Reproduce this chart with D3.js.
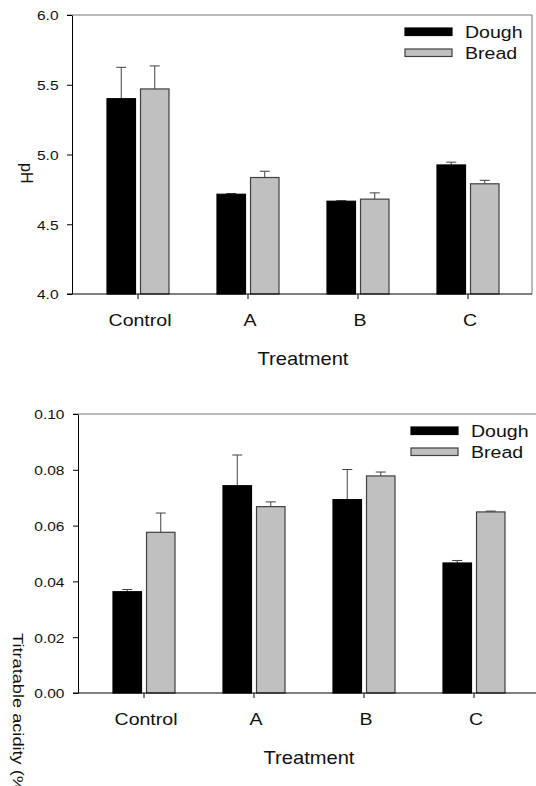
<!DOCTYPE html>
<html>
<head>
<meta charset="utf-8">
<script src="https://cdn.jsdelivr.net/npm/d3@7"></script>
<style>
    body { margin: 0; background: #fff; }
    svg { display: block; font-family: "Liberation Sans", Arial, sans-serif; }
</style>
</head>
<body>
<svg id="chart" width="536" height="786"></svg>
<script>
// Dough vs bread, pH and titratable acidity per treatment

const treatments = ['Control', 'A', 'B', 'C'];
const series = ['Dough', 'Bread'];

// pH panel
const phDough = [5.40, 4.715, 4.665, 4.925];
const phDoughErr = [0.225, 0.005, 0.004, 0.02];
const phBread = [5.47, 4.835, 4.68, 4.79];
const phBreadErr = [0.165, 0.045, 0.045, 0.025];
const phTicks = [4.0, 4.5, 5.0, 5.5, 6.0];

// Titratable acidity panel
const taDough = [0.0363, 0.0743, 0.0693, 0.0466];
const taDoughErr = [0.0008, 0.0110, 0.0108, 0.0009];
const taBread = [0.0576, 0.0668, 0.0778, 0.0649];
const taBreadErr = [0.0069, 0.0017, 0.0014, 0.0003];
const taTicks = [0.00, 0.02, 0.04, 0.06, 0.08, 0.10];

const fills = { Dough: '#000000', Bread: '#c0c0c0' };
const strokes = { Dough: '#000000', Bread: '#404040' };
const frameGray = '#777777';
const sx = 1.15; // the source figure is stretched a bit horizontally

const svg = d3.select('#chart');

function drawPanel(cfg) {
    const { left, right, top, bottom } = cfg.box;
    const g = svg.append('g');

    const x = d3.scaleBand()
        .domain(treatments)
        .range([left + 11, right - 9]);

    const x1 = d3.scaleBand()
        .domain(series)
        .range([-31, 31])
        .paddingInner(0.15);

    const y = d3.scaleLinear()
        .domain(cfg.domain)
        .range([bottom, top]);

    // rows: one per treatment and series
    const rows = [];
    treatments.forEach((t, i) => {
        rows.push({ t, s: 'Dough', v: cfg.dough[i], e: cfg.doughErr[i] });
        rows.push({ t, s: 'Bread', v: cfg.bread[i], e: cfg.breadErr[i] });
    });
    const cx = d => x(d.t) + x.bandwidth() / 2;

    // frame (top and right in gray)
    g.append('line')
        .attr('x1', left - 5).attr('x2', right)
        .attr('y1', top).attr('y2', top)
        .attr('stroke', frameGray);
    g.append('line')
        .attr('x1', right).attr('x2', right)
        .attr('y1', top).attr('y2', bottom)
        .attr('stroke', frameGray);

    // error bars (upper only)
    const err = g.append('g')
        .attr('stroke', '#404040')
        .attr('stroke-width', 1);
    err.selectAll('line.stem')
        .data(rows)
        .join('line')
        .attr('class', 'stem')
        .attr('x1', d => cx(d) + x1(d.s) + x1.bandwidth() / 2)
        .attr('x2', d => cx(d) + x1(d.s) + x1.bandwidth() / 2)
        .attr('y1', d => y(d.v))
        .attr('y2', d => y(d.v + d.e));
    err.selectAll('line.cap')
        .data(rows)
        .join('line')
        .attr('class', 'cap')
        .attr('x1', d => cx(d) + x1(d.s) + x1.bandwidth() / 2 - 5)
        .attr('x2', d => cx(d) + x1(d.s) + x1.bandwidth() / 2 + 5)
        .attr('y1', d => y(d.v + d.e))
        .attr('y2', d => y(d.v + d.e));

    // bars
    g.append('g')
        .selectAll('rect')
        .data(rows)
        .join('rect')
        .attr('x', d => cx(d) + x1(d.s))
        .attr('y', d => y(d.v))
        .attr('width', x1.bandwidth())
        .attr('height', d => y(cfg.domain[0]) - y(d.v))
        .attr('fill', d => fills[d.s])
        .attr('stroke', d => strokes[d.s])
        .attr('stroke-width', 1.2);

    // y axis
    const yAxis = g.append('g')
        .attr('transform', `translate(${left},0)`)
        .call(d3.axisLeft(y)
            .tickValues(cfg.ticks)
            .tickFormat(d3.format(cfg.fmt))
            .tickSize(5)
            .tickSizeOuter(0));
    yAxis.selectAll('text')
        .attr('x', -13.5 / sx)
        .attr('dy', '0.36em')
        .attr('transform', `scale(${sx},1)`)
        .attr('font-size', 13.5)
        .attr('fill', '#111');

    // x axis
    const xAxis = g.append('g')
        .attr('transform', `translate(0,${bottom})`)
        .call(d3.axisBottom(x)
            .tickSize(5)
            .tickSizeOuter(0));
    xAxis.select('.domain')
        .attr('d', `M${left - 5},0H${right}`);
    xAxis.selectAll('text')
        .attr('x', 2 / sx)
        .attr('y', 32)
        .attr('dy', 0)
        .attr('transform', `scale(${sx},1)`)
        .attr('font-size', 17)
        .attr('fill', '#111');
    g.selectAll('.domain, .tick line').attr('stroke', '#000');

    // x title
    g.append('text')
        .attr('transform', `translate(${(left + right) / 2 + 1},${bottom + 71}) scale(${sx},1)`)
        .attr('text-anchor', 'middle')
        .attr('font-size', 17.5)
        .attr('fill', '#111')
        .text('Treatment');

    // y title
    g.append('text')
        .attr('transform', cfg.yTitleTransform)
        .attr('font-size', cfg.yTitleSize)
        .attr('fill', '#111')
        .text(cfg.yTitle);

    // legend
    const legend = g.append('g')
        .attr('transform', `translate(${right - 127},${top + 13})`);
    series.forEach((s, i) => {
        legend.append('rect')
            .attr('x', 0)
            .attr('y', i * 21)
            .attr('width', 47)
            .attr('height', 7.5)
            .attr('fill', fills[s])
            .attr('stroke', strokes[s])
            .attr('stroke-width', 1.2);
        legend.append('text')
            .attr('transform', `translate(60,${i * 21 + 10}) scale(${sx},1)`)
            .attr('font-size', 17)
            .attr('fill', '#111')
            .text(s);
    });
}

drawPanel({
    box: { left: 72, right: 532, top: 15, bottom: 294 },
    domain: [4, 6],
    ticks: phTicks,
    fmt: '.1f',
    dough: phDough, doughErr: phDoughErr,
    bread: phBread, breadErr: phBreadErr,
    yTitle: 'pH',
    yTitleSize: 16,
    yTitleTransform: 'translate(21,163) rotate(90)'
});

drawPanel({
    box: { left: 78, right: 538, top: 414, bottom: 693 },
    domain: [0, 0.1],
    ticks: taTicks,
    fmt: '.2f',
    dough: taDough, doughErr: taDoughErr,
    bread: taBread, breadErr: taBreadErr,
    yTitle: 'Titratable acidity (%)',
    yTitleSize: 14,
    yTitleTransform: 'translate(12.5,633) rotate(90) scale(1.3,1)'
});
</script>
</body>
</html>
